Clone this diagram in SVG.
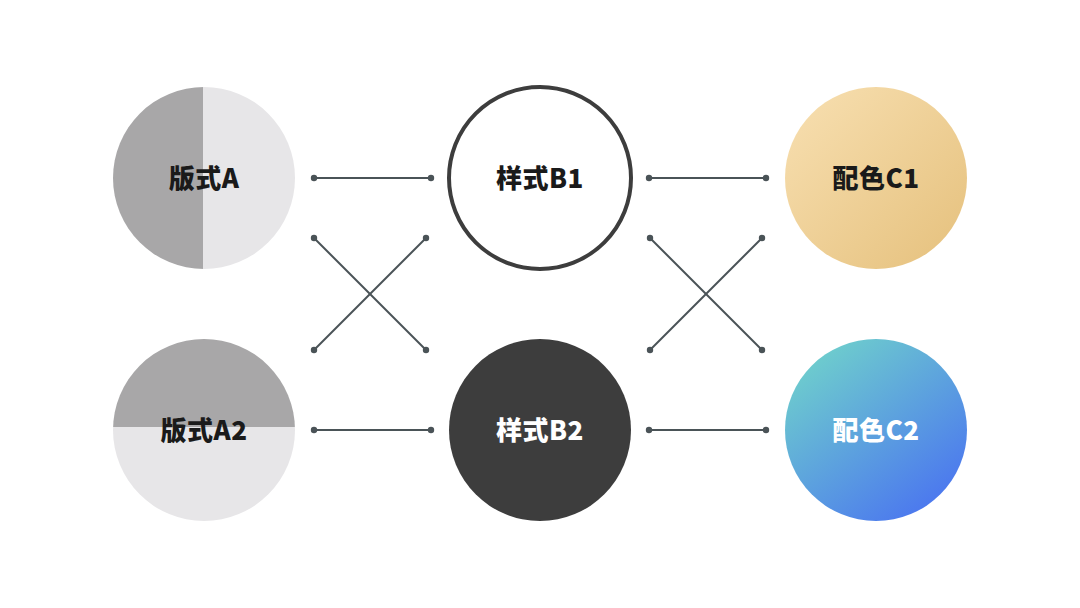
<svg xmlns="http://www.w3.org/2000/svg" width="1080" height="608" viewBox="0 0 1080 608">
<defs>
<linearGradient id="gc1" x1="0" y1="0" x2="1" y2="1">
<stop offset="0" stop-color="#f8e0b2"/>
<stop offset="1" stop-color="#e5c07c"/>
</linearGradient>
<linearGradient id="gc2" x1="0.15" y1="0.05" x2="0.85" y2="0.95">
<stop offset="0" stop-color="#6fd0cc"/>
<stop offset="1" stop-color="#4a74f0"/>
</linearGradient>
<clipPath id="cA"><circle cx="204" cy="178" r="91"/></clipPath>
<clipPath id="cA2"><circle cx="204" cy="430" r="91"/></clipPath>
<style>
.lbl{font-family:"Noto Sans CJK SC","Noto Sans",sans-serif;font-weight:900;font-size:26px;letter-spacing:0.5px;text-anchor:middle;fill:#1a1a1a}
.w{fill:#ffffff}
.ln{stroke:#4a5357;stroke-width:2;fill:none}
.dot{fill:#4a5357}
</style>
</defs>
<rect width="1080" height="608" fill="#ffffff"/>
<g id="connectors">
<line class="ln" x1="314" y1="178" x2="431" y2="178"/>
<line class="ln" x1="314" y1="238" x2="426" y2="350"/>
<line class="ln" x1="426" y1="238" x2="314" y2="350"/>
<line class="ln" x1="314" y1="430" x2="431" y2="430"/>
<line class="ln" x1="649" y1="178" x2="766" y2="178"/>
<line class="ln" x1="650" y1="238" x2="762" y2="350"/>
<line class="ln" x1="762" y1="238" x2="650" y2="350"/>
<line class="ln" x1="649" y1="430" x2="766" y2="430"/>
<g>
<circle class="dot" cx="314" cy="178" r="3.2"/><circle class="dot" cx="431" cy="178" r="3.2"/>
<circle class="dot" cx="314" cy="238" r="3.2"/><circle class="dot" cx="426" cy="350" r="3.2"/>
<circle class="dot" cx="426" cy="238" r="3.2"/><circle class="dot" cx="314" cy="350" r="3.2"/>
<circle class="dot" cx="314" cy="430" r="3.2"/><circle class="dot" cx="431" cy="430" r="3.2"/>
<circle class="dot" cx="649" cy="178" r="3.2"/><circle class="dot" cx="766" cy="178" r="3.2"/>
<circle class="dot" cx="650" cy="238" r="3.2"/><circle class="dot" cx="762" cy="350" r="3.2"/>
<circle class="dot" cx="762" cy="238" r="3.2"/><circle class="dot" cx="650" cy="350" r="3.2"/>
<circle class="dot" cx="649" cy="430" r="3.2"/><circle class="dot" cx="766" cy="430" r="3.2"/>
</g>
</g>
<g id="nodeA">
<g clip-path="url(#cA)">
<rect x="110" y="84" width="93" height="190" fill="#a8a7a8"/>
<rect x="203" y="84" width="95" height="190" fill="#e7e6e8"/>
</g>
<text class="lbl" x="204" y="188">版式A</text>
</g>
<g id="nodeA2">
<g clip-path="url(#cA2)">
<rect x="110" y="336" width="190" height="91" fill="#a8a7a8"/>
<rect x="110" y="427" width="190" height="95" fill="#e7e6e8"/>
</g>
<text class="lbl" x="204" y="440">版式A2</text>
</g>
<g id="nodeB1">
<circle cx="540" cy="178" r="91" fill="#ffffff" stroke="#3d3d3d" stroke-width="4"/>
<text class="lbl" x="540" y="188">样式B1</text>
</g>
<g id="nodeB2">
<circle cx="540" cy="430" r="91" fill="#3d3d3d"/>
<text class="lbl w" x="540" y="440">样式B2</text>
</g>
<g id="nodeC1">
<circle cx="876" cy="178" r="91" fill="url(#gc1)"/>
<text class="lbl" x="876" y="188">配色C1</text>
</g>
<g id="nodeC2">
<circle cx="876" cy="430" r="91" fill="url(#gc2)"/>
<text class="lbl w" x="876" y="440">配色C2</text>
</g>
</svg>
